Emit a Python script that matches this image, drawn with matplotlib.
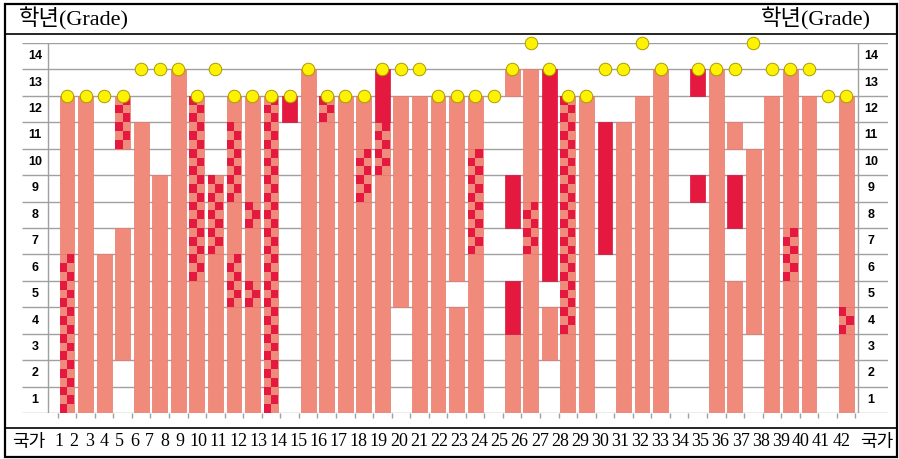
import numpy as np
import matplotlib.pyplot as plt
from matplotlib.patches import Rectangle

# grade runs for each column: (kind, first grade, last grade)
# s = plain, c = checkered, r = dark red
segments = [
    [('c', 1, 6), ('s', 7, 12)],
    [('s', 1, 12)],
    [('s', 1, 6)],
    [('s', 3, 7), ('c', 11, 12)],
    [('s', 1, 11)],
    [('s', 1, 9)],
    [('s', 1, 13)],
    [('s', 1, 5), ('c', 6, 12)],
    [('s', 1, 6), ('c', 7, 9)],
    [('s', 1, 4), ('c', 5, 6), ('s', 7, 8), ('c', 9, 11), ('s', 12, 12)],
    [('s', 1, 4), ('c', 5, 5), ('s', 6, 7), ('c', 8, 8), ('s', 9, 12)],
    [('c', 1, 12)],
    [('r', 12, 12)],
    [('s', 1, 13)],
    [('s', 1, 11), ('c', 12, 12)],
    [('s', 1, 12)],
    [('s', 1, 8), ('c', 9, 10), ('s', 11, 12)],
    [('s', 1, 9), ('c', 10, 11), ('r', 12, 13)],
    [('s', 5, 12)],
    [('s', 1, 12)],
    [('s', 1, 12)],
    [('s', 1, 4), ('s', 6, 12)],
    [('s', 1, 6), ('c', 7, 10), ('s', 11, 12)],
    [],
    [('s', 1, 3), ('r', 4, 5), ('r', 8, 9), ('s', 13, 13)],
    [('s', 1, 6), ('c', 7, 8), ('s', 9, 13)],
    [('s', 3, 4), ('r', 6, 13)],
    [('s', 1, 3), ('c', 4, 12)],
    [('s', 1, 12)],
    [('r', 7, 11)],
    [('s', 1, 11)],
    [('s', 1, 12)],
    [('s', 1, 13)],
    [],
    [('r', 9, 9), ('r', 13, 13)],
    [('s', 1, 13)],
    [('s', 1, 5), ('r', 8, 9), ('s', 11, 11)],
    [('s', 4, 10)],
    [('s', 1, 12)],
    [('s', 1, 5), ('c', 6, 7), ('s', 8, 13)],
    [('s', 1, 12)],
    [],
    [('s', 1, 3), ('c', 4, 4), ('s', 5, 12)],
]

# yellow marker (last grade) per column, None = no marker
end_grade = [12, 12, 12, 12, 13, 13, 13, 12, 13, 12, 12, 12, 12, 13, 12, 12,
             12, 13, 13, 13, 12, 12, 12, 12, 13, 14, 13, 12, 12, 13, 13, 14,
             13, None, 13, 13, 13, 14, 13, 13, 13, 12, 12]

country_labels = [str(i) for i in range(1, 43)]
grade_labels = [str(g) for g in range(1, 15)]
row_title = '국가'
header = '학년(Grade)'

SALMON = '#F08A7A'
SALMON_EDGE = '#E8786A'
RED = '#E5183F'
GRID = '#A0A0A0'
W, H = 899, 459

fig = plt.figure(figsize=(W / 100, H / 100), dpi=100)

# table frame drawn in pixel coordinates
fr = fig.add_axes([0, 0, 1, 1])
fr.set_xlim(0, W)
fr.set_ylim(H, 0)
fr.axis('off')
fr.add_patch(Rectangle((5, 4), 892, 453, fill=False, ec='black', lw=1.6))
fr.plot([5, 897], [34, 34], color='black', lw=1.2)
fr.plot([5, 897], [428, 428], color='black', lw=1.2)
serif_kr = ['Liberation Serif', 'Noto Sans CJK KR']
fr.text(19, 19, header, fontsize=16, family=serif_kr, ha='left', va='center')
fr.text(871, 19, header, fontsize=16, family=serif_kr, ha='right', va='center')
fr.text(29, 442, row_title, fontsize=13, family=serif_kr, ha='center', va='center')
fr.text(877, 442, row_title, fontsize=13, family=serif_kr, ha='center', va='center')
for i, lab in enumerate(country_labels):
    n = i + 1
    xp = 59 + 15.1 * (n - 1) if n < 10 else 198 + 20.1 * (n - 10)
    fr.text(xp, 442, lab, fontsize=13, family='Liberation Serif',
            ha='center', va='center')

# chart area: column i centred at pixel 67 + 18.55*i, grade 0..14 -> pixel 413..43
step = 18.55
x0 = (22 - 67) / step
x1 = (888 - 67) / step
ax = fig.add_axes([22 / W, (H - 413) / H, 866 / W, 370 / H])
ax.set_xlim(x0, x1)
ax.set_ylim(0, 14)
ax.axis('off')

ax.hlines(range(15), x0, x1, color=GRID, lw=1, zorder=1)
left_line = (48 - 67) / step
right_line = (858 - 67) / step
ax.vlines([left_line, right_line], 0, 14, color=GRID, lw=1, zorder=1)
ncol = len(segments)
ax.vlines(np.arange(ncol + 1) - 0.5, -0.2, 0, color=GRID, lw=1, zorder=1,
          clip_on=False)

for g, lab in enumerate(grade_labels):
    for xl in [(35 - 67) / step, (871 - 67) / step]:
        ax.text(xl, g + 0.5, lab, fontsize=9, fontweight='bold',
                family='Liberation Sans', ha='center', va='center')

bw = 0.8
sq_x, sq_y = [], []
for i, runs in enumerate(segments):
    for kind, g0, g1 in runs:
        n = g1 - g0 + 1
        if kind == 'r':
            ax.bar(i, n, bottom=g0 - 1, width=bw, color=RED, ec='#D8143C',
                   lw=0.5, zorder=2)
        else:
            ax.bar(i, n, bottom=g0 - 1, width=bw, color=SALMON, ec=SALMON_EDGE,
                   lw=0.5, zorder=2)
        if kind == 'c':
            for k in range(3 * n):
                sq_x.append(i - bw / 4 if k % 2 == 0 else i + bw / 4)
                sq_y.append(g0 - 1 + k / 3)
ax.bar(sq_x, 1 / 3, bottom=sq_y, width=bw / 2, color=RED, lw=0, zorder=3)

dx = [i for i, g in enumerate(end_grade) if g is not None]
dy = [g for g in end_grade if g is not None]
ax.plot(dx, dy, 'o', ms=9, mfc='#FFF200', mec='#A89C00', mew=0.7,
        zorder=5, clip_on=False)

fig.savefig('out.png', dpi=100)
